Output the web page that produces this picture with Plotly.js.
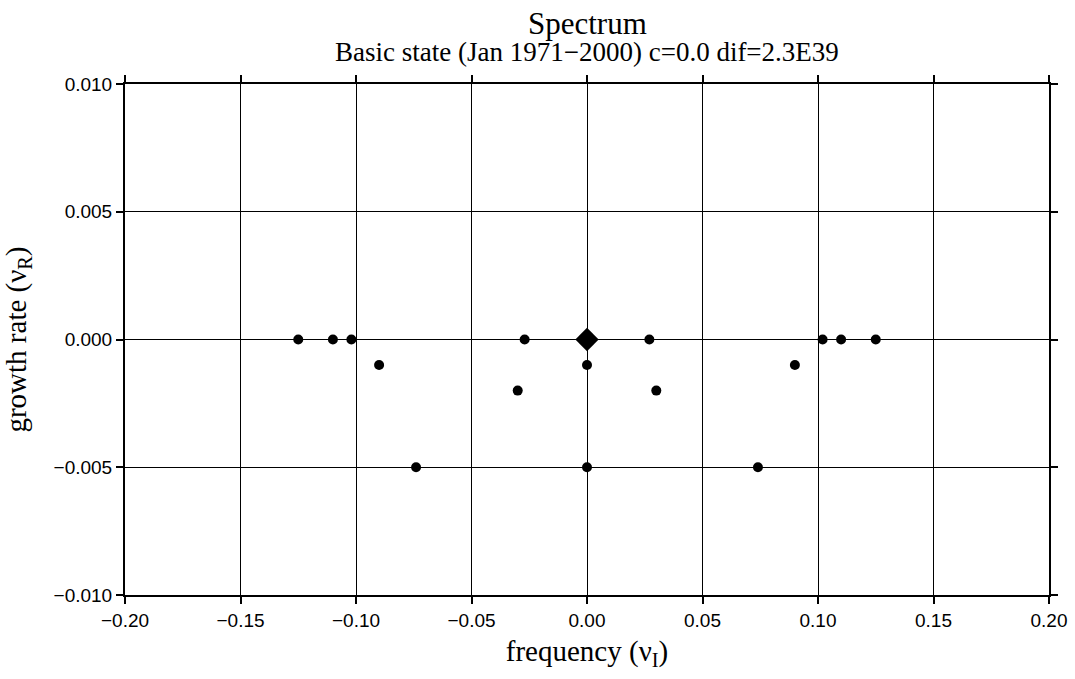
<!DOCTYPE html>
<html><head><meta charset="utf-8">
<script src="https://cdn.plot.ly/plotly-3.0.1.min.js"></script>
<style>body{margin:0;}#chart{width:1075px;height:679px;}</style>
</head><body><div id="chart"></div>
<script>
const freq = [-0.125, -0.11, -0.102, -0.09, -0.074, -0.03, -0.027, 0.0, 0.0, 0.027, 0.03, 0.074, 0.09, 0.102, 0.11, 0.125];
const growth = [0.0, 0.0, 0.0, -0.001, -0.005, -0.002, 0.0, -0.001, -0.005, 0.0, -0.002, -0.005, -0.001, 0.0, 0.0, 0.0];
const leadFreq = [0.0];
const leadGrowth = [0.0];
const xTicks = [-0.20, -0.15, -0.10, -0.05, 0.00, 0.05, 0.10, 0.15, 0.20];
const yTicks = [-0.010, -0.005, 0.000, 0.005, 0.010];
const titleText = 'Spectrum';
const subtitleText = 'Basic state (Jan 1971\u22122000) c=0.0 dif=2.3E39';
const fmt = (v, d) => (v < 0 ? '\u2212' : '') + Math.abs(v).toFixed(d);
const serif = 'Liberation Serif';
const sans = 'Liberation Sans';

const traces = [
  {x: freq, y: growth, mode: 'markers', type: 'scatter', marker: {color: '#000', size: 10, symbol: 'circle'}, cliponaxis: false},
  {x: leadFreq, y: leadGrowth, mode: 'markers', type: 'scatter', marker: {color: '#000', size: 18, symbol: 'diamond'}, cliponaxis: false}
];
const axisCommon = {showline: true, linewidth: 2, linecolor: '#000', mirror: 'ticks', ticks: 'outside', ticklen: 7, tickwidth: 1.5, tickcolor: '#000', showgrid: true, gridcolor: '#000', gridwidth: 1, zeroline: false, tickfont: {family: sans, size: 19, color: '#000'}};
const layout = {
  width: 1075, height: 679,
  margin: {l: 125, r: 26, t: 84, b: 84},
  paper_bgcolor: '#fff', plot_bgcolor: '#fff',
  showlegend: false,
  annotations: [
    {text: titleText, xref: 'paper', yref: 'paper', x: 0.5, y: (595 - 23) / 511, xanchor: 'center', yanchor: 'middle', showarrow: false, font: {family: serif, size: 31, color: '#000'}},
    {text: subtitleText, xref: 'paper', yref: 'paper', x: 0.5, y: (595 - 52) / 511, xanchor: 'center', yanchor: 'middle', showarrow: false, font: {family: serif, size: 27, color: '#000'}}
  ],
  xaxis: Object.assign({}, axisCommon, {range: [-0.2, 0.2], tickvals: xTicks, ticktext: xTicks.map(v => fmt(v, 2)),
    title: {text: 'frequency (\u03bd<sub>I</sub>)', font: {family: serif, size: 29, color: '#000'}, standoff: 11}}),
  yaxis: Object.assign({}, axisCommon, {range: [-0.01, 0.01], tickvals: yTicks, ticktext: yTicks.map(v => fmt(v, 3)),
    title: {text: 'growth rate (\u03bd<sub>R</sub>)', font: {family: serif, size: 29, color: '#000'}, standoff: 18}})
};
Plotly.newPlot('chart', traces, layout, {displayModeBar: false});
</script></body></html>
